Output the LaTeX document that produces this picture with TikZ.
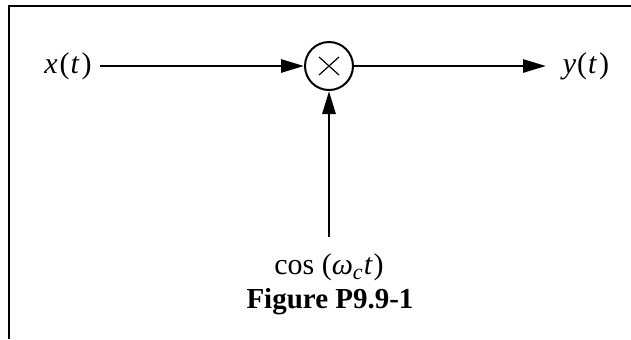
\documentclass[tikz,border=0pt]{standalone}
\usepackage{fontspec}
\setmainfont{Liberation Serif}
\usetikzlibrary{arrows.meta,calc}
\begin{document}
\begin{tikzpicture}[x=0.5pt,y=-0.5pt,
  frame/.style={line width=1pt},
  sig/.style={line width=1.4pt,-{Triangle[length=11.5pt,width=6.5pt]}},
  lbl/.style={font=\fontsize{15}{18}\selectfont,inner sep=0pt},
  figcap/.style={font=\fontsize{14.5}{17}\selectfont\bfseries,inner sep=0pt},
  mult/.style={circle,draw,line width=1pt,minimum size=24pt,inner sep=0pt}]
\useasboundingbox (0,0) rectangle (631,339);
\draw[frame] (9,339) -- (9,6) -- (631,6);
\node[lbl] (x) at (68,66) {\textit{x}\kern1pt(\kern0.5pt\textit{t}\kern1pt)};
\node[mult] (m) at (329,66) {};
\draw[line width=0.6pt] ($(m)+(-10,-9)$) -- ($(m)+(10,9)$);
\draw[line width=0.6pt] ($(m)+(-10,9)$) -- ($(m)+(10,-9)$);
\node[lbl] (y) at (586,66) {\textit{y}\kern0.5pt(\kern0.5pt\textit{t}\kern1pt)};
\coordinate (xs) at (100,66);
\coordinate (ye) at (546,66);
\coordinate (cs) at (329,237);
\node[lbl] (c) at (329,267) {cos (\textit{ω}\raisebox{-0.4ex}{\fontsize{11}{13}\selectfont\textit{c}}\kern0.5pt\textit{t}\kern0.5pt)};
\node[figcap] (f) at (330,302) {Figure P9.9-1};
\draw[sig] (xs) -- (m.west);
\draw[sig] (m.east) -- (ye);
\draw[sig] (cs) -- (m.south);
\end{tikzpicture}
\end{document}
